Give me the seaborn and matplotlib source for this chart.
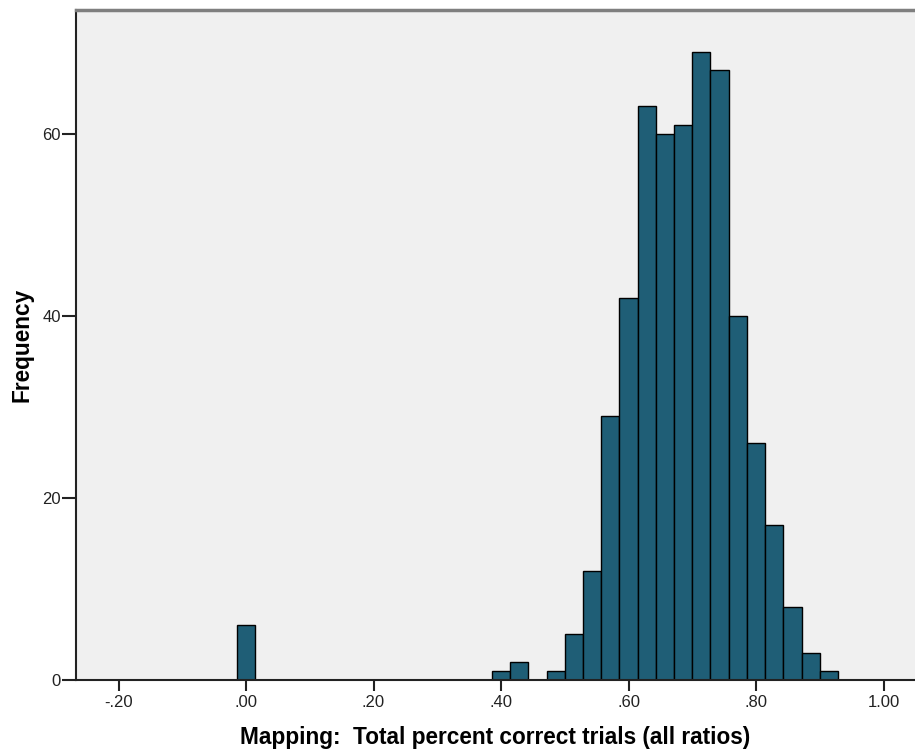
import numpy as np
import pandas as pd
import matplotlib
matplotlib.use("Agg")
import matplotlib.pyplot as plt
import seaborn as sns

# Histogram bins are 1/35 wide, centred on k/35
bin_index = [0, 14, 15, 16, 17, 18, 19, 20, 21, 22, 23, 24, 25, 26, 27, 28, 29, 30, 31, 32]
counts = [6, 1, 2, 0, 1, 5, 12, 29, 42, 63, 60, 61, 69, 67, 40, 26, 17, 8, 3, 1]
x_ticks = [-0.2, 0.0, 0.2, 0.4, 0.6, 0.8, 1.0]
x_tick_labels = ["-.20", ".00", ".20", ".40", ".60", ".80", "1.00"]
y_ticks = [0, 20, 40, 60]

n_bins = 35
centers = np.array(bin_index) / n_bins
df = pd.DataFrame({"score": centers, "freq": counts})

sns.set_style("white")
plt.rcParams["font.family"] = ["Liberation Sans", "DejaVu Sans"]

fig = plt.figure(figsize=(9.15, 7.51), dpi=100)
ax = fig.add_axes([76 / 915, 1 - 680 / 751, 1 - 76 / 915, 670 / 751])
ax.set_facecolor("#f0f0f0")

sns.histplot(data=df, x="score", weights="freq",
             binwidth=1 / n_bins, binrange=(-0.5 / n_bins, 32.5 / n_bins), ax=ax,
             color="#1f5e76", alpha=1.0, edgecolor="black", linewidth=1.0)

ax.set_xlim(-0.2667, 1.0494)
ax.set_ylim(0, 73.6)
ax.set_xticks(x_ticks)
ax.set_xticklabels(x_tick_labels)
ax.set_yticks(y_ticks)

ax.tick_params(axis="both", which="major", direction="out", width=1.5,
               bottom=True, left=True, color="#222222",
               labelsize=12, labelcolor="#222222")
ax.tick_params(axis="x", length=8, pad=3)
ax.tick_params(axis="y", length=10, pad=1)

for side in ("left", "bottom"):
    ax.spines[side].set_color("#222222")
    ax.spines[side].set_linewidth(1.5)
ax.spines["top"].set_color("#7f7f7f")
ax.spines["top"].set_linewidth(2.5)
ax.spines["right"].set_visible(False)

ax.set_xlabel("Mapping:  Total percent correct trials (all ratios)",
              fontsize=16.3, fontweight="bold", labelpad=11, color="black")
ax.set_ylabel("Frequency", fontsize=16.3, fontweight="bold", labelpad=6, color="black")

fig.savefig("out.png", dpi=100)
